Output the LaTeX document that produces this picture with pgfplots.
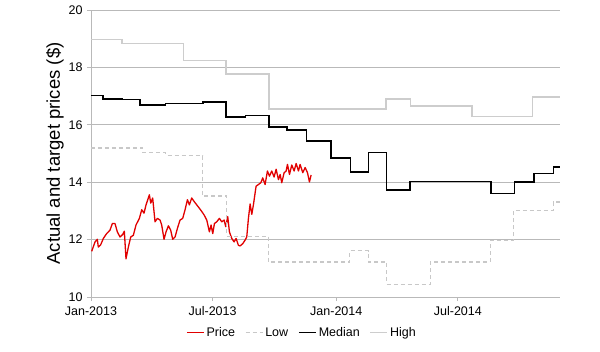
\documentclass[border=0pt]{standalone}
\usepackage{pgfplots}
\pgfplotsset{compat=1.18}
\usepackage{fontspec}
\setmainfont{Liberation Sans}
\definecolor{pricered}{RGB}{225,0,0}
\definecolor{lowgray}{RGB}{200,200,200}
\definecolor{highgray}{RGB}{205,205,205}
\definecolor{gridgray}{RGB}{185,185,185}
\begin{document}
\begin{tikzpicture}
\begin{axis}[
  at={(0,0)}, anchor=south west,
  scale only axis,
  width=469pt, height=287pt,
  xmin=0, xmax=698, ymin=10, ymax=20,
  axis lines=left,
  axis line style={-, draw=gridgray, line width=0.8pt},
  tick align=outside,
  major tick length=4pt,
  tick style={draw=gridgray, line width=0.8pt},
  xtick={0,181,365,546},
  xticklabels={Jan-2013,Jul-2013,Jan-2014,Jul-2014},
  ytick={10,12,14,16,18,20},
  ymajorgrids,
  grid style={draw=gridgray, line width=0.8pt},
  /pgf/number format/assume math mode=true,
  ticklabel style={font=\fontsize{12.5}{15}\selectfont},
  xticklabel style={yshift=-2pt},
  yticklabel style={xshift=-1pt},
  ylabel={Actual and target prices (\$)},
  ylabel style={font=\fontsize{18.5}{22}\selectfont, at={(axis description cs:-0.077,0.5)}, anchor=center},
  legend columns=4,
  legend style={at={(axis description cs:0.45,-0.124)}, anchor=center, draw=none, fill=none,
    font=\fontsize{12.5}{15}\selectfont,
    /tikz/every even column/.append style={column sep=8pt},
    inner xsep=0pt, inner ysep=0pt},
  legend cell align=left,
]
\addplot[pricered, line width=1.3pt, line join=round] coordinates {
(1,11.59)(6,11.92)(9.4,12.01)(10.9,11.74)(14.4,11.82)(18.4,12.04)(23.3,12.21)(28.3,12.33)(31.8,12.56)(35.7,12.56)
(39.2,12.27)(43.2,12.09)(47.2,12.18)(49.6,12.29)(52.1,11.33)(55.6,11.74)(59.1,12.09)(63,12.15)(67,12.51)(72,12.74)
(75.5,13.04)(78.9,12.92)(81.9,13.21)(86.9,13.56)(88.9,13.27)(91.8,13.45)(95.3,12.62)(98.8,12.74)(102.8,12.68)(105.2,12.51)
(108.7,12.01)(111.7,12.27)(115.2,12.48)(118.6,12.33)(121.6,12.01)(125.1,12.09)(128.6,12.39)(132.5,12.68)(136.5,12.74)(140,13.04)
(143.5,13.39)(146.4,13.21)(149.9,13.45)(153.4,13.33)(157.4,13.21)(161.3,13.09)(164.8,12.98)(168.3,12.86)(172.3,12.68)(176.2,12.27)
(178.7,12.51)(181.2,12.21)(183.7,12.56)(187.1,12.62)(191.1,12.74)(194.6,12.62)(198.1,12.68)(200.5,12.45)(203.5,12.80)(206,12.27)
(209.5,12.04)(213,11.92)(215.9,12.04)(219.4,11.80)(221.9,11.78)(225.9,11.86)(229.3,11.98)(231.8,12.09)(234.3,12.74)(236.8,13.24)
(239.3,12.88)(241.7,13.21)(245.7,13.86)(249.2,13.92)(252.7,13.98)(255.6,14.15)(259.1,13.92)(262.6,14.39)(265.6,14.21)(269,14.39)
(272.5,14.18)(275.5,14.45)(279,14.09)(281.5,14.27)(283.9,13.98)(287.4,14.33)(290.4,14.39)(292.4,14.62)(295.4,14.27)(298.8,14.60)
(302.3,14.39)(305.3,14.65)(308.8,14.39)(311.2,14.62)(315.2,14.33)(318.7,14.51)(322.2,14.33)(325.1,14.01)(327.6,14.25)
};
\addlegendentry{Price}
\addplot[lowgray, line width=1.1pt, dash pattern=on 4pt off 3pt, const plot mark left] coordinates {
(0,15.19)(77,15.03)(111,14.93)(166,13.52)(202,12.12)(264,11.22)(385,11.62)(413,11.22)(440,10.44)(505,11.22)(594,11.97)(629,13.02)(688,13.31)(698,13.31)
};
\addlegendentry{Low}
\addplot[black, line width=1.5pt, const plot mark left] coordinates {
(0,17.02)(18,16.90)(46,16.88)(73,16.69)(111,16.75)(167,16.80)(201,16.27)(230,16.32)(265,15.92)(292,15.82)(321,15.43)(357,14.84)(386,14.36)(413,15.03)(440,13.72)(475,14.03)(595,13.61)(630,14.01)(659,14.30)(688,14.53)(698,14.53)
};
\addlegendentry{Median}
\addplot[highgray, line width=1.3pt, const plot mark left] coordinates {
(0,18.96)(46,18.84)(138,18.25)(201,17.77)(265,16.55)(439,16.90)(475,16.66)(567,16.30)(631,16.28)(657,16.97)(698,16.97)
};
\addlegendentry{High}
\end{axis}
\pgfresetboundingbox
\path[use as bounding box] (-91pt,-54pt) rectangle (509pt,297pt);
\end{tikzpicture}
\end{document}
